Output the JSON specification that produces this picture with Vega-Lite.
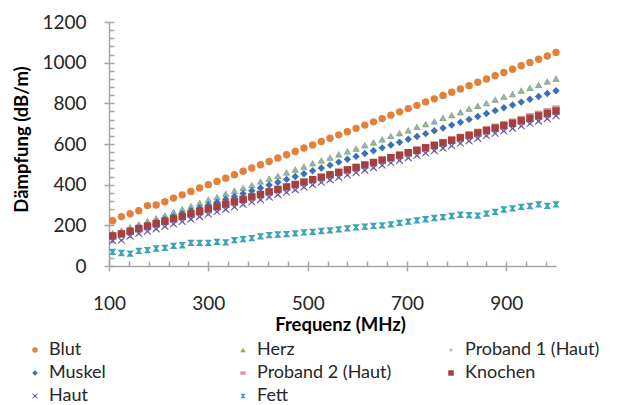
{
"$schema":"https://vega.github.io/schema/vega-lite/v6.json",
"width":447,"height":244,
"autosize":{"type":"none"},
"padding":{"left":109,"top":22,"right":61,"bottom":139},
"background":"white",
"config":{"view":{"stroke":null},"font":"Lato",
 "legend":{"orient":"none","legendX":-83,"legendY":319,"columns":3,"gridAlign":"all","columnPadding":50,"rowPadding":5,"labelFontSize":18,"labelFont":"Lato","labelColor":"#262626","symbolSize":30,"labelOffset":5,"padding":0,"symbolStrokeWidth":0}},
"datasets":{"d":[
{"f":107.5,"s":"Blut","v":222},{"f":125,"s":"Blut","v":243},{"f":142.5,"s":"Blut","v":257},{"f":160,"s":"Blut","v":272},{"f":177.5,"s":"Blut","v":297},{"f":195,"s":"Blut","v":300},{"f":212.5,"s":"Blut","v":316},{"f":230,"s":"Blut","v":334},{"f":247.5,"s":"Blut","v":350},{"f":265,"s":"Blut","v":367},{"f":282.5,"s":"Blut","v":384},{"f":300,"s":"Blut","v":400},{"f":317.5,"s":"Blut","v":416},{"f":335,"s":"Blut","v":432},{"f":352.5,"s":"Blut","v":449},{"f":370,"s":"Blut","v":466},{"f":387.5,"s":"Blut","v":482},{"f":405,"s":"Blut","v":498},{"f":422.5,"s":"Blut","v":514},{"f":440,"s":"Blut","v":531},{"f":457.5,"s":"Blut","v":547},{"f":475,"s":"Blut","v":563},{"f":492.5,"s":"Blut","v":580},{"f":510,"s":"Blut","v":595},{"f":527.5,"s":"Blut","v":612},{"f":545,"s":"Blut","v":628},{"f":562.5,"s":"Blut","v":645},{"f":580,"s":"Blut","v":660},{"f":597.5,"s":"Blut","v":677},{"f":615,"s":"Blut","v":693},{"f":632.5,"s":"Blut","v":709},{"f":650,"s":"Blut","v":725},{"f":667.5,"s":"Blut","v":742},{"f":685,"s":"Blut","v":758},{"f":702.5,"s":"Blut","v":774},{"f":720,"s":"Blut","v":790},{"f":737.5,"s":"Blut","v":807},{"f":755,"s":"Blut","v":822},{"f":772.5,"s":"Blut","v":839},{"f":790,"s":"Blut","v":855},{"f":807.5,"s":"Blut","v":871},{"f":825,"s":"Blut","v":887},{"f":842.5,"s":"Blut","v":904},{"f":860,"s":"Blut","v":920},{"f":877.5,"s":"Blut","v":936},{"f":895,"s":"Blut","v":952},{"f":912.5,"s":"Blut","v":968},{"f":930,"s":"Blut","v":985},{"f":947.5,"s":"Blut","v":1001},{"f":965,"s":"Blut","v":1017},{"f":982.5,"s":"Blut","v":1033},{"f":1000,"s":"Blut","v":1050},
{"f":107.5,"s":"Herz","v":162},{"f":125,"s":"Herz","v":175},{"f":142.5,"s":"Herz","v":192},{"f":160,"s":"Herz","v":206},{"f":177.5,"s":"Herz","v":222},{"f":195,"s":"Herz","v":236},{"f":212.5,"s":"Herz","v":250},{"f":230,"s":"Herz","v":267},{"f":247.5,"s":"Herz","v":281},{"f":265,"s":"Herz","v":295},{"f":282.5,"s":"Herz","v":311},{"f":300,"s":"Herz","v":327},{"f":317.5,"s":"Herz","v":340},{"f":335,"s":"Herz","v":356},{"f":352.5,"s":"Herz","v":371},{"f":370,"s":"Herz","v":385},{"f":387.5,"s":"Herz","v":399},{"f":405,"s":"Herz","v":416},{"f":422.5,"s":"Herz","v":430},{"f":440,"s":"Herz","v":444},{"f":457.5,"s":"Herz","v":461},{"f":475,"s":"Herz","v":475},{"f":492.5,"s":"Herz","v":489},{"f":510,"s":"Herz","v":506},{"f":527.5,"s":"Herz","v":520},{"f":545,"s":"Herz","v":534},{"f":562.5,"s":"Herz","v":550},{"f":580,"s":"Herz","v":564},{"f":597.5,"s":"Herz","v":578},{"f":615,"s":"Herz","v":595},{"f":632.5,"s":"Herz","v":609},{"f":650,"s":"Herz","v":623},{"f":667.5,"s":"Herz","v":640},{"f":685,"s":"Herz","v":654},{"f":702.5,"s":"Herz","v":668},{"f":720,"s":"Herz","v":685},{"f":737.5,"s":"Herz","v":698},{"f":755,"s":"Herz","v":712},{"f":772.5,"s":"Herz","v":729},{"f":790,"s":"Herz","v":743},{"f":807.5,"s":"Herz","v":757},{"f":825,"s":"Herz","v":774},{"f":842.5,"s":"Herz","v":788},{"f":860,"s":"Herz","v":802},{"f":877.5,"s":"Herz","v":819},{"f":895,"s":"Herz","v":833},{"f":912.5,"s":"Herz","v":846},{"f":930,"s":"Herz","v":863},{"f":947.5,"s":"Herz","v":877},{"f":965,"s":"Herz","v":891},{"f":982.5,"s":"Herz","v":908},{"f":1000,"s":"Herz","v":922},
{"f":107.5,"s":"Proband 1 (Haut)","v":157},{"f":125,"s":"Proband 1 (Haut)","v":170},{"f":142.5,"s":"Proband 1 (Haut)","v":187},{"f":160,"s":"Proband 1 (Haut)","v":201},{"f":177.5,"s":"Proband 1 (Haut)","v":217},{"f":195,"s":"Proband 1 (Haut)","v":231},{"f":212.5,"s":"Proband 1 (Haut)","v":245},{"f":230,"s":"Proband 1 (Haut)","v":262},{"f":247.5,"s":"Proband 1 (Haut)","v":276},{"f":265,"s":"Proband 1 (Haut)","v":290},{"f":282.5,"s":"Proband 1 (Haut)","v":306},{"f":300,"s":"Proband 1 (Haut)","v":322},{"f":317.5,"s":"Proband 1 (Haut)","v":335},{"f":335,"s":"Proband 1 (Haut)","v":351},{"f":352.5,"s":"Proband 1 (Haut)","v":366},{"f":370,"s":"Proband 1 (Haut)","v":380},{"f":387.5,"s":"Proband 1 (Haut)","v":394},{"f":405,"s":"Proband 1 (Haut)","v":411},{"f":422.5,"s":"Proband 1 (Haut)","v":425},{"f":440,"s":"Proband 1 (Haut)","v":439},{"f":457.5,"s":"Proband 1 (Haut)","v":456},{"f":475,"s":"Proband 1 (Haut)","v":470},{"f":492.5,"s":"Proband 1 (Haut)","v":484},{"f":510,"s":"Proband 1 (Haut)","v":501},{"f":527.5,"s":"Proband 1 (Haut)","v":515},{"f":545,"s":"Proband 1 (Haut)","v":529},{"f":562.5,"s":"Proband 1 (Haut)","v":545},{"f":580,"s":"Proband 1 (Haut)","v":559},{"f":597.5,"s":"Proband 1 (Haut)","v":573},{"f":615,"s":"Proband 1 (Haut)","v":590},{"f":632.5,"s":"Proband 1 (Haut)","v":604},{"f":650,"s":"Proband 1 (Haut)","v":618},{"f":667.5,"s":"Proband 1 (Haut)","v":635},{"f":685,"s":"Proband 1 (Haut)","v":649},{"f":702.5,"s":"Proband 1 (Haut)","v":663},{"f":720,"s":"Proband 1 (Haut)","v":680},{"f":737.5,"s":"Proband 1 (Haut)","v":693},{"f":755,"s":"Proband 1 (Haut)","v":707},{"f":772.5,"s":"Proband 1 (Haut)","v":724},{"f":790,"s":"Proband 1 (Haut)","v":738},{"f":807.5,"s":"Proband 1 (Haut)","v":752},{"f":825,"s":"Proband 1 (Haut)","v":769},{"f":842.5,"s":"Proband 1 (Haut)","v":783},{"f":860,"s":"Proband 1 (Haut)","v":797},{"f":877.5,"s":"Proband 1 (Haut)","v":814},{"f":895,"s":"Proband 1 (Haut)","v":828},{"f":912.5,"s":"Proband 1 (Haut)","v":841},{"f":930,"s":"Proband 1 (Haut)","v":858},{"f":947.5,"s":"Proband 1 (Haut)","v":872},{"f":965,"s":"Proband 1 (Haut)","v":886},{"f":982.5,"s":"Proband 1 (Haut)","v":903},{"f":1000,"s":"Proband 1 (Haut)","v":917},
{"f":107.5,"s":"Muskel","v":145},{"f":125,"s":"Muskel","v":159},{"f":142.5,"s":"Muskel","v":173},{"f":160,"s":"Muskel","v":187},{"f":177.5,"s":"Muskel","v":201},{"f":195,"s":"Muskel","v":215},{"f":212.5,"s":"Muskel","v":229},{"f":230,"s":"Muskel","v":243},{"f":247.5,"s":"Muskel","v":257},{"f":265,"s":"Muskel","v":272},{"f":282.5,"s":"Muskel","v":286},{"f":300,"s":"Muskel","v":300},{"f":317.5,"s":"Muskel","v":314},{"f":335,"s":"Muskel","v":328},{"f":352.5,"s":"Muskel","v":342},{"f":370,"s":"Muskel","v":356},{"f":387.5,"s":"Muskel","v":370},{"f":405,"s":"Muskel","v":384},{"f":422.5,"s":"Muskel","v":398},{"f":440,"s":"Muskel","v":412},{"f":457.5,"s":"Muskel","v":426},{"f":475,"s":"Muskel","v":440},{"f":492.5,"s":"Muskel","v":454},{"f":510,"s":"Muskel","v":468},{"f":527.5,"s":"Muskel","v":482},{"f":545,"s":"Muskel","v":496},{"f":562.5,"s":"Muskel","v":511},{"f":580,"s":"Muskel","v":525},{"f":597.5,"s":"Muskel","v":539},{"f":615,"s":"Muskel","v":553},{"f":632.5,"s":"Muskel","v":567},{"f":650,"s":"Muskel","v":581},{"f":667.5,"s":"Muskel","v":595},{"f":685,"s":"Muskel","v":609},{"f":702.5,"s":"Muskel","v":623},{"f":720,"s":"Muskel","v":637},{"f":737.5,"s":"Muskel","v":651},{"f":755,"s":"Muskel","v":665},{"f":772.5,"s":"Muskel","v":679},{"f":790,"s":"Muskel","v":693},{"f":807.5,"s":"Muskel","v":707},{"f":825,"s":"Muskel","v":721},{"f":842.5,"s":"Muskel","v":735},{"f":860,"s":"Muskel","v":750},{"f":877.5,"s":"Muskel","v":764},{"f":895,"s":"Muskel","v":778},{"f":912.5,"s":"Muskel","v":792},{"f":930,"s":"Muskel","v":806},{"f":947.5,"s":"Muskel","v":820},{"f":965,"s":"Muskel","v":834},{"f":982.5,"s":"Muskel","v":848},{"f":1000,"s":"Muskel","v":862},
{"f":107.5,"s":"Proband 2 (Haut)","v":147},{"f":125,"s":"Proband 2 (Haut)","v":157},{"f":142.5,"s":"Proband 2 (Haut)","v":170},{"f":160,"s":"Proband 2 (Haut)","v":183},{"f":177.5,"s":"Proband 2 (Haut)","v":195},{"f":195,"s":"Proband 2 (Haut)","v":207},{"f":212.5,"s":"Proband 2 (Haut)","v":219},{"f":230,"s":"Proband 2 (Haut)","v":231},{"f":247.5,"s":"Proband 2 (Haut)","v":243},{"f":265,"s":"Proband 2 (Haut)","v":255},{"f":282.5,"s":"Proband 2 (Haut)","v":267},{"f":300,"s":"Proband 2 (Haut)","v":279},{"f":317.5,"s":"Proband 2 (Haut)","v":291},{"f":335,"s":"Proband 2 (Haut)","v":303},{"f":352.5,"s":"Proband 2 (Haut)","v":315},{"f":370,"s":"Proband 2 (Haut)","v":327},{"f":387.5,"s":"Proband 2 (Haut)","v":339},{"f":405,"s":"Proband 2 (Haut)","v":352},{"f":422.5,"s":"Proband 2 (Haut)","v":365},{"f":440,"s":"Proband 2 (Haut)","v":377},{"f":457.5,"s":"Proband 2 (Haut)","v":390},{"f":475,"s":"Proband 2 (Haut)","v":402},{"f":492.5,"s":"Proband 2 (Haut)","v":414},{"f":510,"s":"Proband 2 (Haut)","v":427},{"f":527.5,"s":"Proband 2 (Haut)","v":439},{"f":545,"s":"Proband 2 (Haut)","v":451},{"f":562.5,"s":"Proband 2 (Haut)","v":464},{"f":580,"s":"Proband 2 (Haut)","v":476},{"f":597.5,"s":"Proband 2 (Haut)","v":489},{"f":615,"s":"Proband 2 (Haut)","v":501},{"f":632.5,"s":"Proband 2 (Haut)","v":514},{"f":650,"s":"Proband 2 (Haut)","v":526},{"f":667.5,"s":"Proband 2 (Haut)","v":539},{"f":685,"s":"Proband 2 (Haut)","v":551},{"f":702.5,"s":"Proband 2 (Haut)","v":564},{"f":720,"s":"Proband 2 (Haut)","v":576},{"f":737.5,"s":"Proband 2 (Haut)","v":589},{"f":755,"s":"Proband 2 (Haut)","v":601},{"f":772.5,"s":"Proband 2 (Haut)","v":614},{"f":790,"s":"Proband 2 (Haut)","v":627},{"f":807.5,"s":"Proband 2 (Haut)","v":640},{"f":825,"s":"Proband 2 (Haut)","v":652},{"f":842.5,"s":"Proband 2 (Haut)","v":665},{"f":860,"s":"Proband 2 (Haut)","v":678},{"f":877.5,"s":"Proband 2 (Haut)","v":690},{"f":895,"s":"Proband 2 (Haut)","v":703},{"f":912.5,"s":"Proband 2 (Haut)","v":715},{"f":930,"s":"Proband 2 (Haut)","v":728},{"f":947.5,"s":"Proband 2 (Haut)","v":741},{"f":965,"s":"Proband 2 (Haut)","v":753},{"f":982.5,"s":"Proband 2 (Haut)","v":766},{"f":1000,"s":"Proband 2 (Haut)","v":779},
{"f":107.5,"s":"Knochen","v":148},{"f":125,"s":"Knochen","v":158},{"f":142.5,"s":"Knochen","v":171},{"f":160,"s":"Knochen","v":184},{"f":177.5,"s":"Knochen","v":196},{"f":195,"s":"Knochen","v":208},{"f":212.5,"s":"Knochen","v":220},{"f":230,"s":"Knochen","v":232},{"f":247.5,"s":"Knochen","v":244},{"f":265,"s":"Knochen","v":256},{"f":282.5,"s":"Knochen","v":268},{"f":300,"s":"Knochen","v":280},{"f":317.5,"s":"Knochen","v":292},{"f":335,"s":"Knochen","v":304},{"f":352.5,"s":"Knochen","v":316},{"f":370,"s":"Knochen","v":328},{"f":387.5,"s":"Knochen","v":340},{"f":405,"s":"Knochen","v":352},{"f":422.5,"s":"Knochen","v":365},{"f":440,"s":"Knochen","v":377},{"f":457.5,"s":"Knochen","v":389},{"f":475,"s":"Knochen","v":401},{"f":492.5,"s":"Knochen","v":413},{"f":510,"s":"Knochen","v":425},{"f":527.5,"s":"Knochen","v":437},{"f":545,"s":"Knochen","v":449},{"f":562.5,"s":"Knochen","v":461},{"f":580,"s":"Knochen","v":473},{"f":597.5,"s":"Knochen","v":485},{"f":615,"s":"Knochen","v":497},{"f":632.5,"s":"Knochen","v":509},{"f":650,"s":"Knochen","v":521},{"f":667.5,"s":"Knochen","v":533},{"f":685,"s":"Knochen","v":545},{"f":702.5,"s":"Knochen","v":557},{"f":720,"s":"Knochen","v":569},{"f":737.5,"s":"Knochen","v":581},{"f":755,"s":"Knochen","v":593},{"f":772.5,"s":"Knochen","v":605},{"f":790,"s":"Knochen","v":618},{"f":807.5,"s":"Knochen","v":630},{"f":825,"s":"Knochen","v":642},{"f":842.5,"s":"Knochen","v":654},{"f":860,"s":"Knochen","v":666},{"f":877.5,"s":"Knochen","v":678},{"f":895,"s":"Knochen","v":690},{"f":912.5,"s":"Knochen","v":702},{"f":930,"s":"Knochen","v":714},{"f":947.5,"s":"Knochen","v":726},{"f":965,"s":"Knochen","v":738},{"f":982.5,"s":"Knochen","v":750},{"f":1000,"s":"Knochen","v":762},
{"f":107.5,"s":"Haut","v":124},{"f":125,"s":"Haut","v":126},{"f":142.5,"s":"Haut","v":146},{"f":160,"s":"Haut","v":160},{"f":177.5,"s":"Haut","v":170},{"f":195,"s":"Haut","v":182},{"f":212.5,"s":"Haut","v":194},{"f":230,"s":"Haut","v":206},{"f":247.5,"s":"Haut","v":218},{"f":265,"s":"Haut","v":230},{"f":282.5,"s":"Haut","v":242},{"f":300,"s":"Haut","v":254},{"f":317.5,"s":"Haut","v":266},{"f":335,"s":"Haut","v":278},{"f":352.5,"s":"Haut","v":290},{"f":370,"s":"Haut","v":302},{"f":387.5,"s":"Haut","v":314},{"f":405,"s":"Haut","v":326},{"f":422.5,"s":"Haut","v":338},{"f":440,"s":"Haut","v":350},{"f":457.5,"s":"Haut","v":362},{"f":475,"s":"Haut","v":374},{"f":492.5,"s":"Haut","v":387},{"f":510,"s":"Haut","v":399},{"f":527.5,"s":"Haut","v":411},{"f":545,"s":"Haut","v":423},{"f":562.5,"s":"Haut","v":435},{"f":580,"s":"Haut","v":447},{"f":597.5,"s":"Haut","v":459},{"f":615,"s":"Haut","v":471},{"f":632.5,"s":"Haut","v":483},{"f":650,"s":"Haut","v":495},{"f":667.5,"s":"Haut","v":507},{"f":685,"s":"Haut","v":519},{"f":702.5,"s":"Haut","v":531},{"f":720,"s":"Haut","v":543},{"f":737.5,"s":"Haut","v":555},{"f":755,"s":"Haut","v":567},{"f":772.5,"s":"Haut","v":579},{"f":790,"s":"Haut","v":591},{"f":807.5,"s":"Haut","v":603},{"f":825,"s":"Haut","v":615},{"f":842.5,"s":"Haut","v":627},{"f":860,"s":"Haut","v":640},{"f":877.5,"s":"Haut","v":652},{"f":895,"s":"Haut","v":664},{"f":912.5,"s":"Haut","v":676},{"f":930,"s":"Haut","v":688},{"f":947.5,"s":"Haut","v":700},{"f":965,"s":"Haut","v":712},{"f":982.5,"s":"Haut","v":724},{"f":1000,"s":"Haut","v":738},
{"f":107.5,"s":"Fett","v":69},{"f":125,"s":"Fett","v":64},{"f":142.5,"s":"Fett","v":61},{"f":160,"s":"Fett","v":74},{"f":177.5,"s":"Fett","v":78},{"f":195,"s":"Fett","v":86},{"f":212.5,"s":"Fett","v":89},{"f":230,"s":"Fett","v":99},{"f":247.5,"s":"Fett","v":102},{"f":265,"s":"Fett","v":114},{"f":282.5,"s":"Fett","v":114},{"f":300,"s":"Fett","v":114},{"f":317.5,"s":"Fett","v":119},{"f":335,"s":"Fett","v":116},{"f":352.5,"s":"Fett","v":127},{"f":370,"s":"Fett","v":132},{"f":387.5,"s":"Fett","v":137},{"f":405,"s":"Fett","v":146},{"f":422.5,"s":"Fett","v":152},{"f":440,"s":"Fett","v":155},{"f":457.5,"s":"Fett","v":157},{"f":475,"s":"Fett","v":160},{"f":492.5,"s":"Fett","v":165},{"f":510,"s":"Fett","v":168},{"f":527.5,"s":"Fett","v":172},{"f":545,"s":"Fett","v":175},{"f":562.5,"s":"Fett","v":180},{"f":580,"s":"Fett","v":185},{"f":597.5,"s":"Fett","v":190},{"f":615,"s":"Fett","v":194},{"f":632.5,"s":"Fett","v":197},{"f":650,"s":"Fett","v":200},{"f":667.5,"s":"Fett","v":205},{"f":685,"s":"Fett","v":212},{"f":702.5,"s":"Fett","v":218},{"f":720,"s":"Fett","v":224},{"f":737.5,"s":"Fett","v":230},{"f":755,"s":"Fett","v":236},{"f":772.5,"s":"Fett","v":240},{"f":790,"s":"Fett","v":246},{"f":807.5,"s":"Fett","v":252},{"f":825,"s":"Fett","v":250},{"f":842.5,"s":"Fett","v":248},{"f":860,"s":"Fett","v":258},{"f":877.5,"s":"Fett","v":266},{"f":895,"s":"Fett","v":278},{"f":912.5,"s":"Fett","v":283},{"f":930,"s":"Fett","v":291},{"f":947.5,"s":"Fett","v":295},{"f":965,"s":"Fett","v":303},{"f":982.5,"s":"Fett","v":296},{"f":1000,"s":"Fett","v":303}
]},
"data":{"name":"d"},
"layer":[
{"mark":{"type":"point","filled":true,"size":55,"opacity":1},
 "encoding":{
  "x":{"field":"f","type":"quantitative","scale":{"domain":[100,1000],"nice":false,"zero":false},
   "axis":{"orient":"bottom","values":[100,300,500,700,900],"format":"d","title":"Frequenz (MHz)","titleFont":"Lato","titleFontSize":18.5,"titleFontWeight":"bold","titleColor":"#000000","titleX":231,"titleY":64,"titleAlign":"center","titleBaseline":"alphabetic","labelFont":"Lato","labelFontSize":19,"labelColor":"#262626","labelPadding":23,"tickSize":5,"tickColor":"#A6A6A6","tickWidth":1.5,"domainColor":"#A6A6A6","domainWidth":1.5,"grid":false,"labelFlush":false,"labelOverlap":false}},
  "y":{"field":"v","type":"quantitative","scale":{"domain":[0,1200],"nice":false},
   "axis":{"orient":"left","values":[0,200,400,600,800,1000,1200],"format":"d","title":"Dämpfung (dB/m)","titleFont":"Lato","titleFontSize":18.5,"titleFontWeight":"bold","titleColor":"#000000","titleX":-82,"titleY":117,"titleAngle":-90,"titleAlign":"center","titleBaseline":"alphabetic","labelFont":"Lato","labelFontSize":19,"labelColor":"#262626","labelPadding":18,"tickSize":5,"tickColor":"#A6A6A6","tickWidth":1.5,"domainColor":"#A6A6A6","domainWidth":1.5,"grid":false,"labelOverlap":false}},
  "color":{"field":"s","type":"nominal","title":null,
   "scale":{"domain":["Blut","Muskel","Haut","Herz","Proband 2 (Haut)","Fett","Proband 1 (Haut)","Knochen"],
            "range":["#E4803A","#3B70B6","#6B5AA0","#8AB150","#D99694","#3CA3B8","#93AFD6","#A5403D"]}},
  "shape":{"field":"s","type":"nominal","title":null,
   "scale":{"domain":["Blut","Muskel","Haut","Herz","Proband 2 (Haut)","Fett","Proband 1 (Haut)","Knochen"],
            "range":["circle","diamond","M-0.9,-1L0,-0.25L0.9,-1L1,-0.75L0.3,0L1,0.75L0.9,1L0,0.25L-0.9,1L-1,0.75L-0.3,0L-1,-0.75Z","triangle-up","M-1,-0.6H1V0.6H-1Z","M-1,-0.85H1L0.3,0L1,0.85H-1L-0.3,0Z","M-0.22,-0.65H0.22V-0.22H0.65V0.22H0.22V0.65H-0.22V0.22H-0.65V-0.22H-0.22Z","square"]}}
 }},
{"mark":{"type":"point","opacity":0},
 "encoding":{
  "x":{"field":"f","type":"quantitative","axis":{"orient":"bottom","values":[100,140,180,220,260,300,340,380,420,460,500,540,580,620,660,700,740,780,820,860,900,940,980],"tickSize":-5,"labels":false,"domain":false,"title":null,"grid":false,"tickColor":"#A6A6A6","tickWidth":1.5}},
  "y":{"field":"v","type":"quantitative","axis":{"orient":"left","values":[0,40,80,120,160,200,240,280,320,360,400,440,480,520,560,600,640,680,720,760,800,840,880,920,960,1000,1040,1080,1120,1160,1200],"tickSize":-5,"labels":false,"domain":false,"title":null,"grid":false,"tickColor":"#A6A6A6","tickWidth":1.5}}
 }}
],
"resolve":{"axis":{"x":"independent","y":"independent"}}
}
